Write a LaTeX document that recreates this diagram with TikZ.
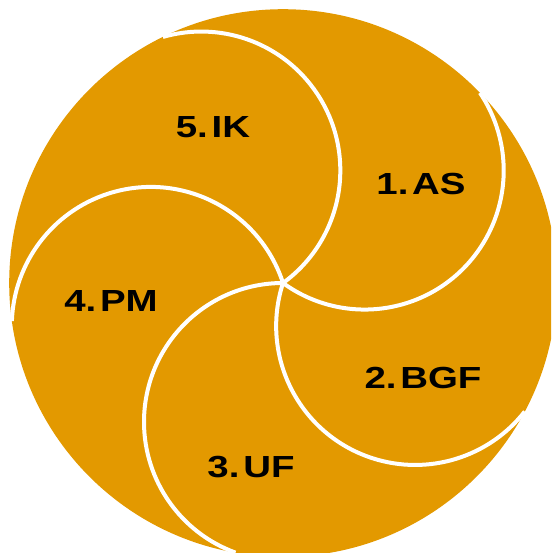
\documentclass[tikz,border=0pt]{standalone}
\usepackage{fontspec}
\usepackage{graphicx}
\setmainfont{Liberation Sans}
\definecolor{gold}{RGB}{227,153,0}
\tikzset{
  seg/.style={white, line width=4pt},
  lbl/.style={inner sep=0pt, text=black, font=\fontsize{30.5}{30.5}\selectfont\bfseries}
}
\newcommand{\stretched}[2]{\scalebox{1.26}[1]{#1.\kern3pt#2}}
\begin{document}
\begin{tikzpicture}[x=1pt,y=-1pt]
\useasboundingbox (0,0) rectangle (551,553);
\clip (0,0) rectangle (551,553);
\def\rr{139}
\def\RR{273.8}
\coordinate (P) at (283,283);
\fill[gold] (P) circle[radius=\RR];
\foreach \b in {-54,-126,162,90,18}{
  \draw[seg] (P) arc[start angle=\b+180, end angle=\b+20, radius=\rr];
}
\node[lbl] (as)  at (421,184) {\stretched{1}{AS}};
\node[lbl] (bgf) at (423,378) {\stretched{2}{BGF}};
\node[lbl] (uf)  at (251,467) {\stretched{3}{UF}};
\node[lbl] (pm)  at (111,301) {\stretched{4}{PM}};
\node[lbl] (ik)  at (213,127) {\stretched{5}{IK}};
\end{tikzpicture}
\end{document}
